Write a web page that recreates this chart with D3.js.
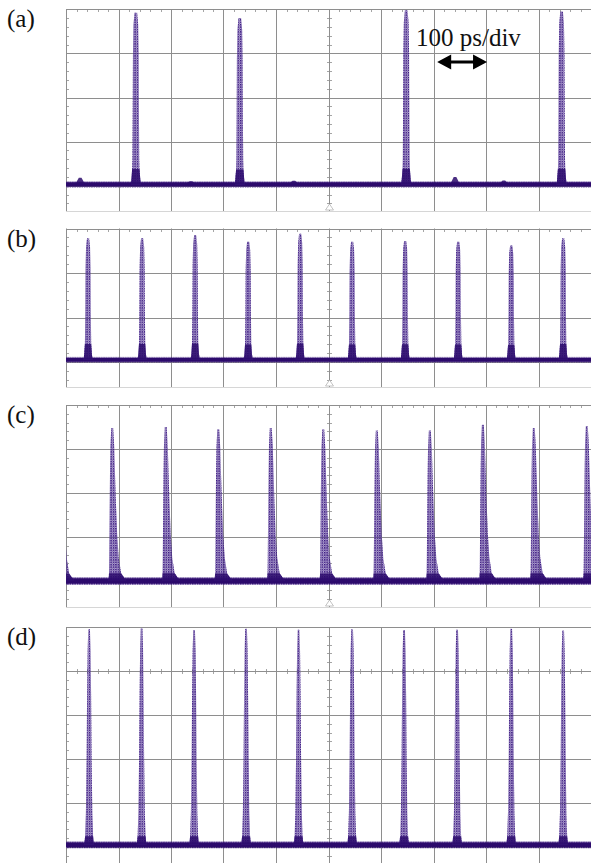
<!DOCTYPE html>
<html lang="en">
<head>
<meta charset="utf-8">
<title>Pulse trains, 100 ps/div</title>
<script src="https://cdn.jsdelivr.net/npm/d3@7"></script>
<style>
  body { margin: 0; background: white; }
  svg text { font-family: "Liberation Serif", "Times New Roman", serif; fill: #111; }
</style>
</head>
<body>
<div id="chart"></div>
<script>
// ---- data (time in ps, amplitude in divisions) ----
var timeDomain = [0, 1000];
var gridStep = 100;
var minorStep = 20;
var labels = ["(a)", "(b)", "(c)", "(d)"];
var scaleText = "100 ps/div";

var peaksA = [133, 331, 648, 944];
var heightsA = [3.92, 3.80, 3.98, 3.95];
var bumpsA = [27, 238, 434, 741, 834];
var bumpHeightsA = [0.15, 0.07, 0.08, 0.17, 0.09];

var peaksB = [42, 145, 246, 347, 446, 545, 646, 747, 848, 947];
var heightsB = [2.78, 2.78, 2.85, 2.70, 2.88, 2.70, 2.72, 2.70, 2.62, 2.78];

var peaksC = [-11, 88, 190, 290, 390, 490, 592, 693, 794, 891, 992];
var heightsC = [3.45, 3.48, 3.50, 3.45, 3.48, 3.45, 3.42, 3.42, 3.55, 3.48, 3.52];

var peaksD = [44, 144, 244, 343, 443, 545, 644, 745, 848, 947];
var heightsD = [4.95, 4.97, 4.93, 4.96, 4.94, 4.95, 4.93, 4.94, 4.96, 4.92];

var baseLevel = [0.03, 0.05, 0.0, 0.05];
var baseNoise = [0.07, 0.065, 0.09, 0.08];

// pulse envelopes: level as fraction of the peak, edges in ps from the peak
var levelsA = [0, 0.04, 0.09, 0.15, 0.4, 0.75, 0.93, 1];
var halfA   = [9.5, 8.2, 7, 6.5, 6, 5.5, 4.5, 2.5];
var levelsB = [0, 0.05, 0.13, 0.4, 0.75, 0.93, 1];
var halfB   = [8.6, 7.2, 6, 5.2, 4.8, 3.8, 2];
var levelsC = [0, 0.05, 0.15, 0.3, 0.5, 0.7, 0.88, 1];
var riseC   = [-6.7, -6.1, -5.7, -5.3, -4.8, -4.2, -3.4, -1.8];
var fallC   = [27, 17, 12.4, 9.5, 7.2, 5.3, 3.8, 1.8];
var levelsD = [0, 0.04, 0.15, 0.4, 0.7, 0.9, 1];
var halfD   = [9.1, 7.6, 6.1, 4.8, 3.8, 2.8, 1.6];
var bumpLevels = [0, 0.5, 1];
var bumpHalf = [9, 6, 2.5];

// ---- layout ----
var W = 591, H = 863;
var neg = function(a) { return a.map(function(v) { return -v; }); };
var panels = [
  {top: 9.3, zero: 185.7, bottom: 211, above: 4, tickRow: 4, trig: true,
   peaks: peaksA, heights: heightsA, levels: levelsA, left: neg(halfA), right: halfA, dense: 0.09},
  {top: 228.5, zero: 362, bottom: 387, above: 3, tickRow: 3, trig: true,
   peaks: peaksB, heights: heightsB, levels: levelsB, left: neg(halfB), right: halfB, dense: 0.13},
  {top: 405, zero: 581, bottom: 607, above: 4, tickRow: 4, trig: true,
   peaks: peaksC, heights: heightsC, levels: levelsC, left: riseC, right: fallC, dense: 0.05},
  {top: 627, zero: 847, bottom: 866, above: 5, tickRow: 4, trig: false,
   peaks: peaksD, heights: heightsD, levels: levelsD, left: neg(halfD), right: halfD, dense: 0.04}
];

var gridColor = "#8e8e8e";
var dotColor = "#34107c";
var denseColor = "#2c0a6c";

var svg = d3.select("#chart").append("svg")
  .attr("width", W).attr("height", H);

var defs = svg.append("defs");
var pat = defs.append("pattern")
  .attr("id", "dots")
  .attr("patternUnits", "userSpaceOnUse")
  .attr("width", 2.4).attr("height", 2.4);
pat.append("rect").attr("width", 1.4).attr("height", 1.4).attr("fill", dotColor);
pat.append("rect").attr("x", 1.2).attr("y", 1.2).attr("width", 1).attr("height", 1)
  .attr("fill", dotColor).attr("opacity", 0.7);

var xs = d3.scaleLinear().domain(timeDomain).range([66, 591]);

panels.forEach(function(p, i) {
  var ys = d3.scaleLinear().domain([0, p.above]).range([p.zero, p.top]);
  var g = svg.append("g");

  defs.append("clipPath").attr("id", "clip" + i)
    .append("rect")
    .attr("x", xs(timeDomain[0])).attr("y", p.top)
    .attr("width", xs(timeDomain[1]) - xs(timeDomain[0]))
    .attr("height", p.bottom - p.top);

  var crisp = function(v) { return Math.round(v) + 0.5; };

  // bottom edge of the screen
  if (p.bottom < H) {
    g.append("line")
      .attr("x1", xs(0)).attr("x2", xs(1000))
      .attr("y1", crisp(p.bottom)).attr("y2", crisp(p.bottom))
      .attr("stroke", "#d6d6d6");
  }

  // vertical grid
  g.selectAll("line.vg").data(d3.range(timeDomain[0], timeDomain[1] + 1, gridStep))
    .enter().append("line")
    .attr("class", "vg")
    .attr("x1", function(d) { return crisp(xs(d)); })
    .attr("x2", function(d) { return crisp(xs(d)); })
    .attr("y1", p.top).attr("y2", p.bottom)
    .attr("stroke", gridColor);

  // horizontal grid
  g.selectAll("line.hg").data(d3.range(0, p.above + 1))
    .enter().append("line")
    .attr("class", "hg")
    .attr("x1", xs(0)).attr("x2", xs(1000))
    .attr("y1", function(d) { return crisp(ys(d)); })
    .attr("y2", function(d) { return crisp(ys(d)); })
    .attr("stroke", gridColor);

  // minor ticks along the centre row and column, and on the left edge
  var ty = crisp(ys(p.tickRow));
  g.selectAll("line.tx").data(d3.range(0, 1001, minorStep).filter(function(d) { return d % gridStep; }))
    .enter().append("line")
    .attr("class", "tx")
    .attr("x1", function(d) { return crisp(xs(d)); })
    .attr("x2", function(d) { return crisp(xs(d)); })
    .attr("y1", p.tickRow === p.above ? ty : ty - 2.5).attr("y2", ty + 2.5)
    .attr("stroke", gridColor).attr("stroke-width", 0.8);

  var yTicks = d3.range(Math.ceil(ys.invert(p.bottom) * 5), p.above * 5 + 1)
    .map(function(d) { return d / 5; })
    .filter(function(d) { return Math.abs(d - Math.round(d)) > 0.01; });
  var cx = crisp(xs(500));
  g.selectAll("line.ty").data(yTicks).enter().append("line")
    .attr("x1", cx - 2.5).attr("x2", cx + 2.5)
    .attr("y1", function(d) { return crisp(ys(d)); })
    .attr("y2", function(d) { return crisp(ys(d)); })
    .attr("stroke", gridColor).attr("stroke-width", 0.8);
  g.selectAll("line.tl").data(yTicks).enter().append("line")
    .attr("x1", crisp(xs(0))).attr("x2", crisp(xs(0)) + 2.5)
    .attr("y1", function(d) { return crisp(ys(d)); })
    .attr("y2", function(d) { return crisp(ys(d)); })
    .attr("stroke", gridColor).attr("stroke-width", 0.8);

  // trigger marker
  if (p.trig) {
    g.append("path")
      .attr("d", "M" + (cx - 4) + "," + (p.bottom - 1) + "L" + (cx + 4) + "," + (p.bottom - 1) +
                 "L" + cx + "," + (p.bottom - 7) + "Z")
      .attr("fill", "white").attr("stroke", "#b5b5b5").attr("stroke-width", 0.8);
  }

  // traces
  var tr = g.append("g").attr("clip-path", "url(#clip" + i + ")");
  var base = baseLevel[i], noise = baseNoise[i];

  function envelope(t0, h, levels, left, right, maxLevel) {
    var pts = [], rev = [];
    levels.forEach(function(l, k) {
      if (l <= maxLevel) {
        pts.push([t0 + left[k], base + l * (h - base)]);
        rev.unshift([t0 + right[k], base + l * (h - base)]);
      }
    });
    return pts.concat(rev);
  }
  var line = d3.line()
    .x(function(d) { return xs(d[0]); })
    .y(function(d) { return ys(d[1]); });

  // baseline noise band
  tr.append("rect")
    .attr("x", xs(-20)).attr("width", xs(1020) - xs(-20))
    .attr("y", ys(base + noise)).attr("height", ys(base - noise) - ys(base + noise))
    .attr("fill", "url(#dots)");
  tr.append("rect")
    .attr("x", xs(-20)).attr("width", xs(1020) - xs(-20))
    .attr("y", ys(base + noise * 0.7)).attr("height", ys(base - noise * 0.7) - ys(base + noise * 0.7))
    .attr("fill", denseColor);

  if (i === 0) {
    bumpsA.forEach(function(t0, k) {
      tr.append("path")
        .attr("d", line(envelope(t0, base + bumpHeightsA[k], bumpLevels, neg(bumpHalf), bumpHalf, 1)) + "Z")
        .attr("fill", denseColor).attr("opacity", 0.85);
    });
  }

  p.peaks.forEach(function(t0, k) {
    var h = p.heights[k];
    var env = line(envelope(t0, h, p.levels, p.left, p.right, 1)) + "Z";
    tr.append("path").attr("d", env)
      .attr("fill", "#6a4fa8").attr("fill-opacity", 0.45);
    tr.append("path").attr("d", env)
      .attr("fill", "url(#dots)");
    tr.append("path")
      .attr("d", line(envelope(t0, h, p.levels, p.left, p.right, p.dense)) + "Z")
      .attr("fill", denseColor).attr("opacity", 0.85);
  });

  // panel label
  svg.append("text")
    .attr("x", 7).attr("y", p.top + 18)
    .attr("font-size", "25px")
    .text(labels[i]);
});

// time scale annotation on panel (a)
svg.append("text")
  .attr("x", 416).attr("y", 46)
  .attr("font-size", "25px")
  .text(scaleText);

var ay = 62, ax0 = xs(707), ax1 = xs(802);
svg.append("path")
  .attr("d", "M" + ax0 + "," + ay +
             "L" + (ax0 + 14) + "," + (ay - 7.5) + "L" + (ax0 + 14) + "," + (ay - 1.5) +
             "L" + (ax1 - 14) + "," + (ay - 1.5) + "L" + (ax1 - 14) + "," + (ay - 7.5) +
             "L" + ax1 + "," + ay +
             "L" + (ax1 - 14) + "," + (ay + 7.5) + "L" + (ax1 - 14) + "," + (ay + 1.5) +
             "L" + (ax0 + 14) + "," + (ay + 1.5) + "L" + (ax0 + 14) + "," + (ay + 7.5) + "Z")
  .attr("fill", "#000");
</script>
</body>
</html>
